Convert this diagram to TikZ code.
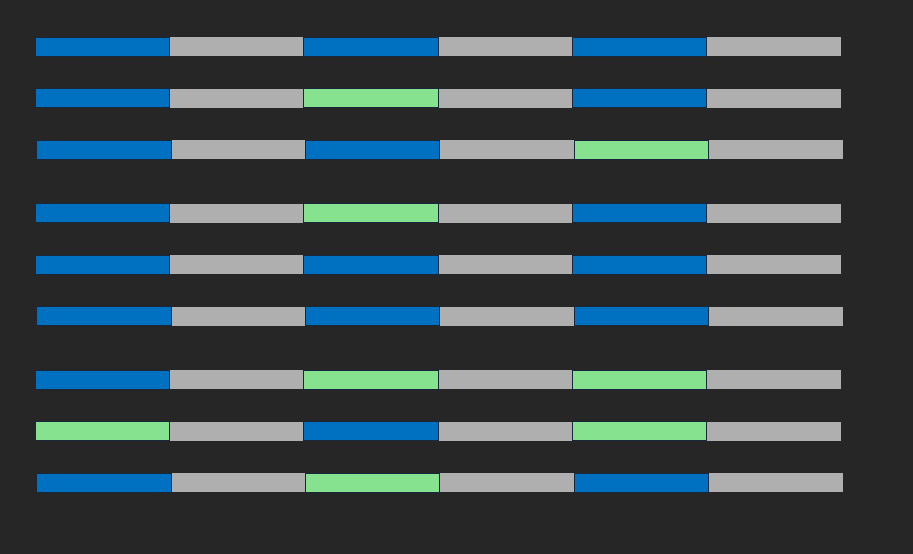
\documentclass[tikz,border=0pt]{standalone}
\usepackage{xcolor}
\usepackage{tikz}

\definecolor{bgdark}{HTML}{262626}
\definecolor{barblue}{HTML}{0070C0}
\definecolor{bargreen}{HTML}{86E28F}
\definecolor{bargray}{HTML}{AFAFAF}
\definecolor{edgedark}{HTML}{16283A}

\begin{document}
\begin{tikzpicture}[x=1pt, y=-1pt]

    % Background
    \fill[bgdark] (0,0) rectangle (913,554);

    % Bar sizes
    \def\segw{134.33}
    \def\barh{19}

    % Each row: top, left edge, colours of the 1st, 3rd and 5th segment
    \foreach \ytop/\xoff/\ca/\cb/\cc in {
        37/35/barblue/barblue/barblue,
        88.5/35/barblue/bargreen/barblue,
        140/36.7/barblue/barblue/bargreen,
        203.5/35/barblue/bargreen/barblue,
        255/35/barblue/barblue/barblue,
        306.5/36.7/barblue/barblue/barblue,
        370/35/barblue/bargreen/bargreen,
        421.5/35/bargreen/barblue/bargreen,
        473/36.7/barblue/bargreen/barblue}{
      \foreach \k/\col in {0/\ca, 1/\cb, 2/\cc}{
        % grey segment
        \fill[bargray] (\xoff+2*\k*\segw+\segw,\ytop) rectangle ++(\segw,\barh);
        % coloured segment with thin dark edge
        \filldraw[fill=\col, draw=edgedark, line width=0.8pt]
          (\xoff+2*\k*\segw,\ytop) rectangle ++(\segw,\barh);
      }
    }

\end{tikzpicture}
\end{document}
